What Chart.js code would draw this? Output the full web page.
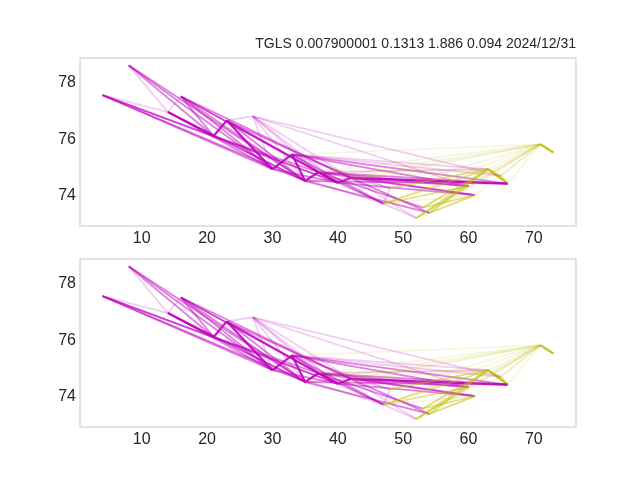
<!DOCTYPE html>
<html>
<head>
<meta charset="utf-8">
<script src="https://cdn.jsdelivr.net/npm/chart.js@4.4.1/dist/chart.umd.min.js"></script>
<style>
  body { margin: 0; background: #fff; }
  #wrap { position: relative; width: 640px; height: 480px; }
  canvas { position: absolute; left: 0; }
  #top { top: 0; }
  #bottom { top: 230px; }
</style>
</head>
<body>
<div id="wrap">
  <canvas id="top" width="640" height="250"></canvas>
  <canvas id="bottom" width="640" height="250"></canvas>
</div>
<script>
// points (x, price)
const xs = [4, 8, 14, 16, 21, 23, 27, 30, 33, 35, 37, 40, 42, 47, 48, 52, 53, 54, 60, 61, 63, 65, 66, 71, 73];
const ys = [77.5, 78.55, 76.9, 77.45, 76.05, 76.6, 76.75, 74.88, 75.4, 74.46, 74.77, 74.4, 74.57,
            73.66, 74.2, 73.15, 73.52, 73.33, 74.28, 73.96, 74.88, 74.64, 74.37, 75.76, 75.47];

// links between points (index pairs), grouped by colour and strength
const magentaBold = [[2,4],[4,5],[5,7],[7,8],[8,9],[9,10],[10,11],[11,12],[12,22]];
const magentaMid = [[0,4],[0,7],[0,9],[0,11],[1,4],[1,7],[1,9],[3,4],[3,7],[3,9],[3,10],[3,11],[3,12],
                    [2,7],[2,9],[4,9],[4,10],[4,11],[5,9],[5,10],[5,11],[5,12],[7,11],[8,11],
                    [8,13],[8,18],[8,22],[10,13],[10,16],[10,18],[10,19],[10,22],[9,17],[9,22],
                    [11,19],[12,18],[12,19],[12,17]];
const magentaFaint = [[0,2],[1,2],[2,3],[5,6],[6,7],[6,9],[6,10],[6,11],[6,12],[6,18],[6,21],
                      [8,14],[8,21],[7,13],[13,14],[13,15],[9,12],[11,13],[12,15],[10,20],[8,20],[12,14]];
const yellowBold = [[23,24],[20,22]];
const yellowMid = [[20,21],[21,22],[13,20],[15,20],[16,20],[17,20],[14,20],[15,18],[13,18],[16,19],[17,19]];
const yellowFaint = [[8,23],[10,23],[12,23],[11,23],[13,23],[14,23],[15,23],[16,23],[17,23],[18,23],
                     [19,23],[20,23],[21,23],[22,23],[9,23],[12,20],[10,20],[13,19],[15,19]];

const xTicks = [10, 20, 30, 40, 50, 60, 70];
const yTicks = [74, 76, 78];
const titleText = "TGLS 0.007900001 0.1313 1.886 0.094 2024/12/31";

const MAGENTA = "191,0,191";
const YELLOW = "191,191,0";

function linkSets(pairs, rgb, alpha, width) {
  return pairs.map(([a, b]) => ({
    data: [{ x: xs[a], y: ys[a] }, { x: xs[b], y: ys[b] }],
    showLine: true,
    borderColor: `rgba(${rgb},${alpha})`,
    borderWidth: width,
    pointRadius: 0,
    fill: false,
  }));
}

function buildDatasets() {
  return [
    ...linkSets(yellowFaint, YELLOW, 0.15, 1.6),
    ...linkSets(yellowMid, YELLOW, 0.45, 1.8),
    ...linkSets(magentaFaint, MAGENTA, 0.2, 1.8),
    ...linkSets(magentaMid, MAGENTA, 0.5, 1.8),
    ...linkSets(magentaBold, MAGENTA, 0.9, 2.2),
    ...linkSets(yellowBold, YELLOW, 0.9, 2.2),
  ];
}

// box round the plot area, like the axes frame
const framePlugin = {
  id: "frame",
  afterDatasetsDraw(chart) {
    const { ctx, chartArea: a } = chart;
    ctx.save();
    ctx.strokeStyle = "#d9d9d9";
    ctx.lineWidth = 1.5;
    ctx.strokeRect(a.left, a.top, a.width, a.height);
    ctx.restore();
  },
};

const titlePlugin = {
  id: "rightTitle",
  afterDraw(chart) {
    const { ctx, chartArea: a } = chart;
    ctx.save();
    ctx.font = "14px 'Liberation Sans', Arial, sans-serif";
    ctx.fillStyle = "#262626";
    ctx.textAlign = "right";
    ctx.textBaseline = "alphabetic";
    ctx.fillText(titleText, a.right, 48);
    ctx.restore();
  },
};

function makeChart(id, padTop, xHeight, withTitle) {
  const tickFont = { family: "'Liberation Sans', Arial, sans-serif", size: 16 };
  return new Chart(document.getElementById(id), {
    type: "scatter",
    data: { datasets: buildDatasets() },
    options: {
      responsive: false,
      animation: false,
      devicePixelRatio: 1,
      layout: { padding: { top: padTop, right: 64, left: 0, bottom: 0 } },
      plugins: { legend: { display: false }, tooltip: { enabled: false } },
      scales: {
        x: {
          type: "linear",
          min: 0.55,
          max: 76.45,
          grid: { display: false, drawTicks: false },
          border: { display: false },
          ticks: { color: "#262626", font: tickFont, padding: 3 },
          afterBuildTicks: (s) => { s.ticks = xTicks.map((v) => ({ value: v })); },
          afterFit: (s) => { s.height = xHeight; },
        },
        y: {
          type: "linear",
          min: 72.87,
          max: 78.81,
          grid: { display: false, drawTicks: false },
          border: { display: false },
          ticks: { color: "#262626", font: tickFont, padding: 4, labelOffset: 2 },
          afterBuildTicks: (s) => { s.ticks = yTicks.map((v) => ({ value: v })); },
          afterFit: (s) => { s.width = 80; },
        },
      },
    },
    plugins: withTitle ? [framePlugin, titlePlugin] : [framePlugin],
  });
}

makeChart("top", 58, 24, true);
makeChart("bottom", 29, 53, false);
</script>
</body>
</html>
